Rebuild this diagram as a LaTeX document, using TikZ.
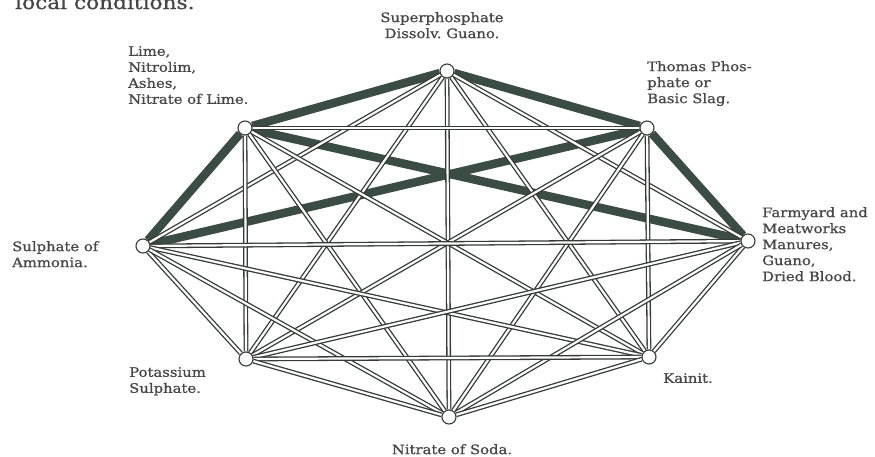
\documentclass[tikz,border=0pt]{standalone}
\usepackage{fontspec}
\setmainfont{DejaVu Serif}[FakeStretch=1.14,FakeBold=0.9]
\usetikzlibrary{backgrounds}
\definecolor{inkgrey}{HTML}{353A37}
\definecolor{slabgreen}{HTML}{3B4C44}
\definecolor{printgrey}{HTML}{464646}
\tikzset{
  dot/.style={circle,draw=inkgrey,line width=1.1pt,fill=white,inner sep=0pt,minimum size=14pt},
  pair/.style={draw=inkgrey,double=white,double distance=2.2pt,line width=1.3pt},
  clash/.style={draw=slabgreen,line width=8.5pt},
  lbl/.style={text=printgrey,font=\fontsize{13}{16}\selectfont,inner sep=0pt,align=left}
}

\begin{document}
\begin{tikzpicture}[x=1pt,y=-1pt]
    \useasboundingbox (0,0) rectangle (875,456);
    \begin{scope}
      \clip (0,0) rectangle (875,456);
      \node[lbl,anchor=base west,font=\fontsize{19}{22}\selectfont] (intro) at (15,9) {local conditions.};
    \end{scope}
    \node[dot] (S) at (447,71) {};
    \node[dot] (L) at (245,128) {};
    \node[dot] (T) at (647,128) {};
    \node[dot] (A) at (143,246) {};
    \node[dot] (F) at (748,241) {};
    \node[dot] (P) at (246,359) {};
    \node[dot] (K) at (649,357) {};
    \node[dot] (N) at (449,417) {};
    \begin{pgfonlayer}{background}
    \draw[clash] (L)--(S);
    \draw[clash] (S)--(T);
    \draw[clash] (L)--(A);
    \draw[clash] (L)--(F);
    \draw[clash] (T)--(A);
    \draw[clash] (T)--(F);
    \draw[pair] (S)--(A);
    \draw[pair] (S)--(F);
    \draw[pair] (S)--(P);
    \draw[pair] (S)--(K);
    \draw[pair] (S)--(N);
    \draw[pair] (L)--(T);
    \draw[pair] (L)--(P);
    \draw[pair] (L)--(K);
    \draw[pair] (L)--(N);
    \draw[pair] (T)--(P);
    \draw[pair] (T)--(K);
    \draw[pair] (T)--(N);
    \draw[pair] (A)--(F);
    \draw[pair] (A)--(P);
    \draw[pair] (A)--(K);
    \draw[pair] (A)--(N);
    \draw[pair] (F)--(P);
    \draw[pair] (F)--(K);
    \draw[pair] (F)--(N);
    \draw[pair] (P)--(K);
    \draw[pair] (P)--(N);
    \draw[pair] (K)--(N);
    \end{pgfonlayer}
    \node[lbl,anchor=north,align=center] (Slbl) at (442,12) {Superphosphate\\Dissolv.\ Guano.};
    \node[lbl,anchor=north west] (Llbl) at (128,46) {Lime,\\Nitrolim,\\Ashes,\\Nitrate of Lime.};
    \node[lbl,anchor=north west] (Tlbl) at (647,61) {Thomas Phos-\\phate or\\Basic Slag.};
    \node[lbl,anchor=north west] (Albl) at (12,241) {Sulphate of\\Ammonia.};
    \node[lbl,anchor=north west] (Flbl) at (762,207) {Farmyard and\\Meatworks\\Manures,\\Guano,\\Dried Blood.};
    \node[lbl,anchor=north west] (Plbl) at (129,367) {Potassium\\Sulphate.};
    \node[lbl,anchor=north west] (Klbl) at (663,373) {Kainit.};
    \node[lbl,anchor=north,align=center] (Nlbl) at (452,444) {Nitrate of Soda.};
\end{tikzpicture}
\end{document}
